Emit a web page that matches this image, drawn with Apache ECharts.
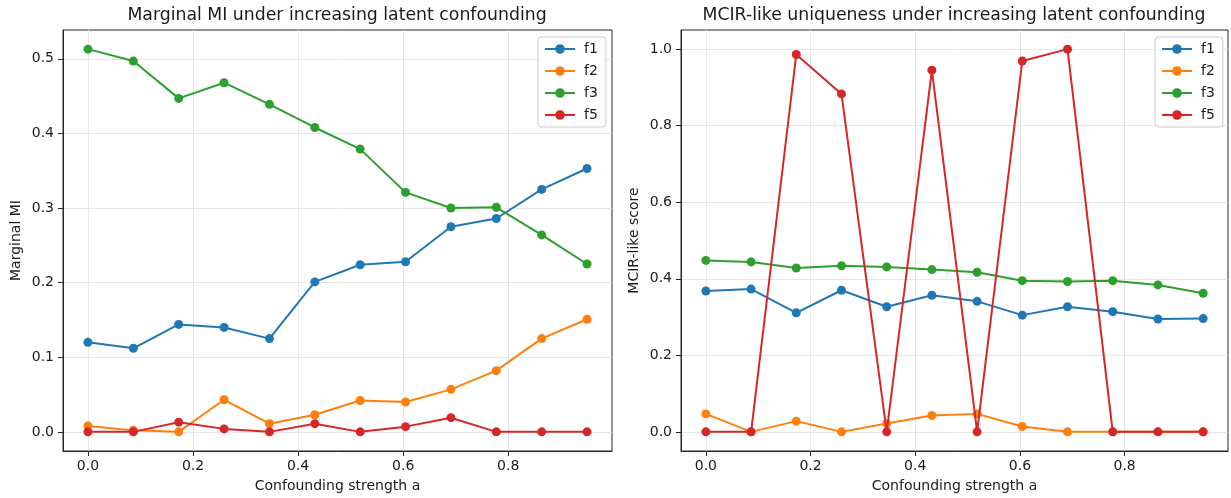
<!DOCTYPE html>
<html>
<head>
<meta charset="utf-8">
<script src="https://cdn.jsdelivr.net/npm/echarts@6/dist/echarts.min.js"></script>
<style>
  html, body { margin: 0; padding: 0; background: #fff; }
  #chart { width: 1231px; height: 498px; }
</style>
</head>
<body>
<div id="chart"></div>
<script>
// Confounding strength values (shared x for both panels)
const strength = [0, 0.0864, 0.1727, 0.2591, 0.3455, 0.4318, 0.5182, 0.6045, 0.6909, 0.7773, 0.8636, 0.95];
const featureNames = ['f1', 'f2', 'f3', 'f5'];

// Marginal mutual information per feature
const miF1 = [0.120, 0.112, 0.144, 0.140, 0.125, 0.201, 0.224, 0.228, 0.275, 0.286, 0.325, 0.353];
const miF2 = [0.008, 0.002, 0.000, 0.043, 0.011, 0.023, 0.042, 0.040, 0.057, 0.082, 0.125, 0.151];
const miF3 = [0.513, 0.497, 0.447, 0.468, 0.439, 0.408, 0.379, 0.321, 0.300, 0.301, 0.264, 0.225];
const miF5 = [0.000, 0.000, 0.013, 0.004, 0.000, 0.011, 0.000, 0.007, 0.019, 0.000, 0.000, 0.000];

// MCIR-like uniqueness score per feature
const mcirF1 = [0.368, 0.373, 0.311, 0.370, 0.327, 0.357, 0.341, 0.305, 0.327, 0.314, 0.295, 0.296];
const mcirF2 = [0.047, 0.000, 0.028, 0.000, 0.022, 0.043, 0.047, 0.014, 0.000, 0.000, 0.000, 0.000];
const mcirF3 = [0.448, 0.444, 0.428, 0.434, 0.431, 0.424, 0.417, 0.395, 0.393, 0.395, 0.384, 0.362];
const mcirF5 = [0.000, 0.000, 0.986, 0.883, 0.000, 0.945, 0.000, 0.969, 1.000, 0.000, 0.000, 0.000];

// Tick positions
const xTicks = [0.0, 0.2, 0.4, 0.6, 0.8];
const miTicks = [0.0, 0.1, 0.2, 0.3, 0.4, 0.5];
const mcirTicks = [0.0, 0.2, 0.4, 0.6, 0.8, 1.0];

const colors = ['#1f77b4', '#ff7f0e', '#2ca02c', '#d62728'];
const FONT = 'DejaVu Sans';
const TEXT = '#1a1a1a';
const SPINE = '#262626';
const GRIDLINE = '#e6e6e6';

function pairs(ys) {
  return strength.map((x, i) => [x, ys[i]]);
}

function xAxisFor(gridIndex) {
  return {
    type: 'value', gridIndex,
    min: -0.0475, max: 0.9975,
    name: 'Confounding strength a', nameLocation: 'middle', nameGap: 28,
    nameTextStyle: { fontFamily: FONT, fontSize: 14, color: TEXT },
    axisLine: { show: true, onZero: false, lineStyle: { color: SPINE, width: 1 } },
    axisTick: { show: true, customValues: xTicks, length: 5, lineStyle: { color: SPINE, width: 1 } },
    axisLabel: { customValues: xTicks, margin: 8, fontFamily: FONT, fontSize: 14, color: TEXT,
                 formatter: v => v.toFixed(1) },
    splitLine: { show: true, lineStyle: { color: GRIDLINE, width: 1 } }
  };
}

function yAxisFor(gridIndex, min, max, ticks, name) {
  return {
    type: 'value', gridIndex, min, max,
    name, nameLocation: 'middle', nameGap: 40,
    nameTextStyle: { fontFamily: FONT, fontSize: 14, color: TEXT },
    axisLine: { show: true, onZero: false, lineStyle: { color: SPINE, width: 1 } },
    axisTick: { show: true, customValues: ticks, length: 5, lineStyle: { color: SPINE, width: 1 } },
    axisLabel: { customValues: ticks, margin: 9, fontFamily: FONT, fontSize: 14, color: TEXT,
                 formatter: v => v.toFixed(1) },
    splitLine: { show: true, lineStyle: { color: GRIDLINE, width: 1 } }
  };
}

function dataSeries(name, ys, ci, axis) {
  return {
    name, type: 'line', xAxisIndex: axis, yAxisIndex: axis, z: 2 + ci,
    data: pairs(ys),
    symbol: 'circle', symbolSize: 9,
    lineStyle: { color: colors[ci], width: 2 },
    itemStyle: { color: colors[ci] },
    emphasis: { disabled: true },
    animation: false
  };
}

function legendFor(left) {
  return {
    data: featureNames, orient: 'vertical', left, top: 37,
    selectedMode: false,
    itemWidth: 30, itemHeight: 12, itemGap: 8,
    padding: [5, 8, 5, 6],
    backgroundColor: 'rgba(255,255,255,0.85)',
    borderColor: '#cccccc', borderWidth: 1, borderRadius: 3,
    textStyle: { fontFamily: FONT, fontSize: 14, color: TEXT, lineHeight: 14, padding: [0, 0, 0, 4] }
  };
}

const chart = echarts.init(document.getElementById('chart'), null, { renderer: 'canvas' });
chart.setOption({
  animation: false,
  backgroundColor: '#ffffff',
  textStyle: { fontFamily: FONT },
  title: [
    { text: 'Marginal MI under increasing latent confounding', left: 332, top: 2, textAlign: 'center',
      textStyle: { fontFamily: FONT, fontSize: 17.3, fontWeight: 'normal', color: TEXT } },
    { text: 'MCIR-like uniqueness under increasing latent confounding', left: 949, top: 2, textAlign: 'center',
      textStyle: { fontFamily: FONT, fontSize: 17.3, fontWeight: 'normal', color: TEXT } }
  ],
  grid: [
    { left: 63, top: 30, width: 549, height: 422, show: true, borderColor: SPINE, borderWidth: 1, backgroundColor: 'transparent' },
    { left: 681, top: 30, width: 547, height: 422, show: true, borderColor: SPINE, borderWidth: 1, backgroundColor: 'transparent' }
  ],
  xAxis: [xAxisFor(0), xAxisFor(1)],
  yAxis: [
    yAxisFor(0, -0.02565, 0.53865, miTicks, 'Marginal MI'),
    yAxisFor(1, -0.05, 1.05, mcirTicks, 'MCIR-like score')
  ],
  legend: [legendFor(538), legendFor(1155)],
  series: [
    dataSeries('f1', miF1, 0, 0),
    dataSeries('f2', miF2, 1, 0),
    dataSeries('f3', miF3, 2, 0),
    dataSeries('f5', miF5, 3, 0),
    dataSeries('f1', mcirF1, 0, 1),
    dataSeries('f2', mcirF2, 1, 1),
    dataSeries('f3', mcirF3, 2, 1),
    dataSeries('f5', mcirF5, 3, 1)
  ]
});
</script>
</body>
</html>
